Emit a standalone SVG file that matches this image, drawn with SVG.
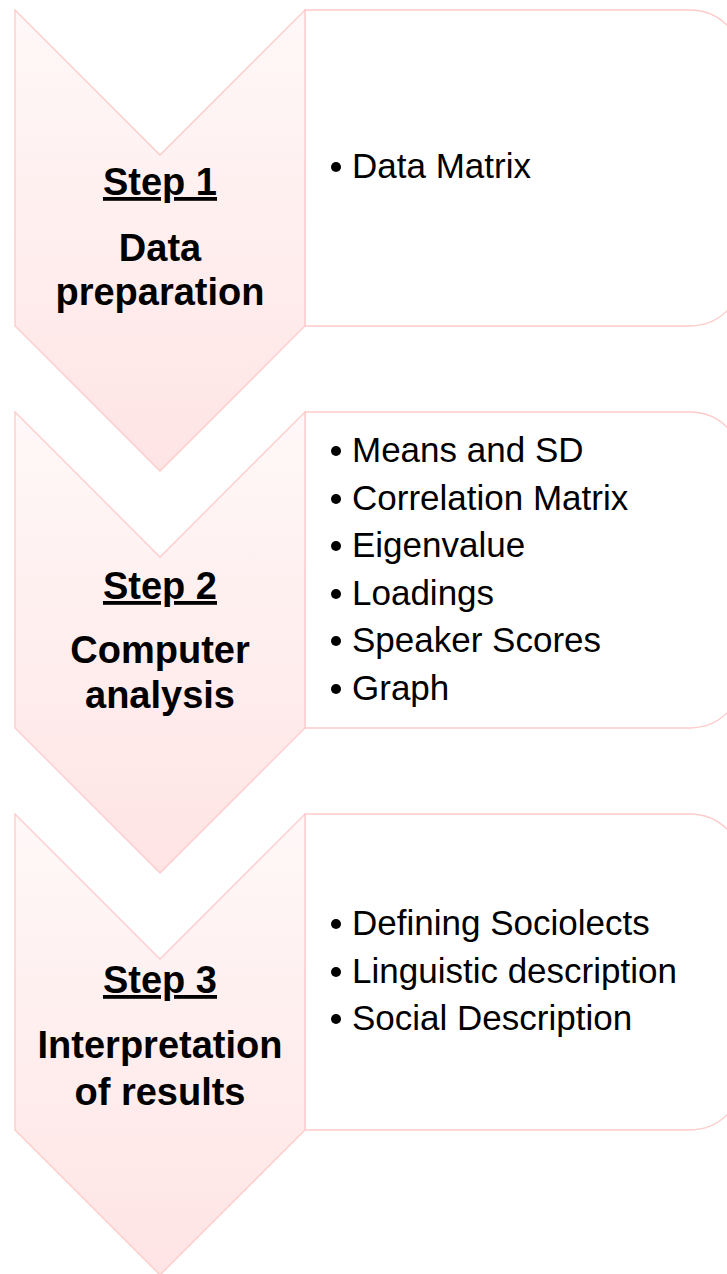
<svg xmlns="http://www.w3.org/2000/svg" width="727" height="1274" viewBox="0 0 727 1274">
  <style>
    .chev { fill: url(#chevGrad); stroke: #ffcaca; stroke-width: 1.3; }
    .box { fill: #ffffff; stroke: #ffcaca; stroke-width: 1.3; }
    .step { font-family: "Liberation Sans", Arial, sans-serif; font-weight: bold; font-size: 38px; fill: #000000; text-anchor: middle; }
    .u { text-decoration: underline; }
    .item { font-family: "Liberation Sans", Arial, sans-serif; font-size: 35px; fill: #000000; }
    .bul { fill: #000000; }
  </style>
  <defs>
    <linearGradient id="chevGrad" x1="0" y1="0" x2="0" y2="1">
      <stop offset="0" stop-color="#fff8f8"/>
      <stop offset="1" stop-color="#ffe4e4"/>
    </linearGradient>
  </defs>
  <rect width="727" height="1274" fill="#ffffff"/>

  <g id="box1">
    <path class="box" d="M305,10 H690 A53,53 0 0 1 743,63 V273 A53,53 0 0 1 690,326 H305 Z"/>
    <circle class="bul" cx="336" cy="167" r="5"/>
    <text class="item" x="352" y="178">Data Matrix</text>
  </g>
  <g id="box2">
    <path class="box" d="M305,412 H690 A53,53 0 0 1 743,465 V675 A53,53 0 0 1 690,728 H305 Z"/>
    <circle class="bul" cx="336" cy="451" r="5"/>
    <text class="item" x="352" y="462">Means and SD</text>
    <circle class="bul" cx="336" cy="499" r="5"/>
    <text class="item" x="352" y="510">Correlation Matrix</text>
    <circle class="bul" cx="336" cy="546" r="5"/>
    <text class="item" x="352" y="557">Eigenvalue</text>
    <circle class="bul" cx="336" cy="594" r="5"/>
    <text class="item" x="352" y="605">Loadings</text>
    <circle class="bul" cx="336" cy="641" r="5"/>
    <text class="item" x="352" y="652">Speaker Scores</text>
    <circle class="bul" cx="336" cy="689" r="5"/>
    <text class="item" x="352" y="700">Graph</text>
  </g>
  <g id="box3">
    <path class="box" d="M305,814 H690 A53,53 0 0 1 743,867 V1077 A53,53 0 0 1 690,1130 H305 Z"/>
    <circle class="bul" cx="336" cy="924" r="5"/>
    <text class="item" x="352" y="935">Defining Sociolects</text>
    <circle class="bul" cx="336" cy="972" r="5"/>
    <text class="item" x="352" y="983">Linguistic description</text>
    <circle class="bul" cx="336" cy="1019" r="5"/>
    <text class="item" x="352" y="1030">Social Description</text>
  </g>

  <g id="step1">
    <polygon class="chev" points="15,10 160,155 305,10 305,326 160,471 15,326"/>
    <text class="step u" x="160" y="195">Step 1</text>
    <text class="step" x="160" y="261">Data</text>
    <text class="step" x="160" y="305">preparation</text>
  </g>
  <g id="step2">
    <polygon class="chev" points="15,412 160,557 305,412 305,728 160,873 15,728"/>
    <text class="step u" x="160" y="599">Step 2</text>
    <text class="step" x="160" y="663">Computer</text>
    <text class="step" x="160" y="708">analysis</text>
  </g>
  <g id="step3">
    <polygon class="chev" points="15,814 160,959 305,814 305,1130 160,1275 15,1130"/>
    <text class="step u" x="160" y="993">Step 3</text>
    <text class="step" x="160" y="1058">Interpretation</text>
    <text class="step" x="160" y="1105">of results</text>
  </g>

  <g id="connectors"/>
</svg>
